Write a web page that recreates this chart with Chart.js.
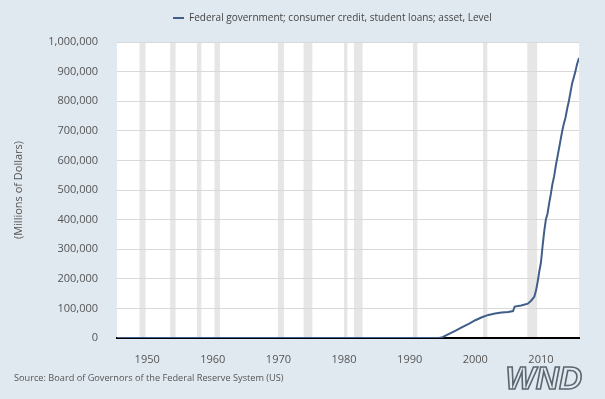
<!DOCTYPE html>
<html>
<head>
<meta charset="utf-8">
<script src="https://cdn.jsdelivr.net/npm/chart.js@4"></script>
<style>
  html, body { margin: 0; padding: 0; background: #e1e9f0; }
  #wrap { width: 605px; height: 399px; }
</style>
</head>
<body>
<div id="wrap"><canvas id="loanChart" width="605" height="399"></canvas></div>
<script>
// dates as decimal years, values in millions of dollars
var years = [1945.4, 1994.5, 1995.0, 1996.0, 1997.0, 1998.0, 1999.0, 2000.0, 2001.0, 2002.0,
    2003.0, 2004.0, 2005.0, 2005.75, 2006.0, 2007.0, 2008.0, 2008.5, 2009.0, 2009.25,
    2009.5, 2009.75, 2010.0, 2010.25, 2010.5, 2010.75, 2011.0, 2011.25, 2011.5, 2011.75,
    2012.0, 2012.25, 2012.5, 2012.75, 2013.0, 2013.25, 2013.5, 2013.75, 2014.0, 2014.25,
    2014.5, 2014.75, 2015.0, 2015.25, 2015.5, 2015.8];
var loans = [0, 0, 3000, 14000, 25000, 37000, 48000, 60000, 70000, 78000,
    83000, 86000, 88000, 91000, 106000, 110000, 116000, 126000, 140000, 160000,
    190000, 225000, 255000, 310000, 360000, 400000, 420000, 455000, 485000, 520000,
    545000, 580000, 610000, 640000, 670000, 700000, 725000, 745000, 775000, 800000,
    830000, 860000, 880000, 900000, 925000, 946000];
var yearTicks = [1950, 1960, 1970, 1980, 1990, 2000, 2010];
var recessionStart = [1948.83, 1953.5, 1957.58, 1960.25, 1969.92, 1973.83, 1980.0, 1981.5, 1990.5, 2001.17, 2007.92];
var recessionEnd = [1949.75, 1954.33, 1958.25, 1961.08, 1970.83, 1975.17, 1980.5, 1982.83, 1991.17, 2001.83, 2009.42];

var seriesName = 'Federal government; consumer credit, student loans; asset, Level';
var sourceText = 'Source: Board of Governors of the Federal Reserve System (US)';

var points = years.map(function (y, i) { return { x: y, y: loans[i] }; });

// white plot area + grey recession bands, under the grid
var backdrop = {
    id: 'backdrop',
    beforeDraw: function (chart) {
        var ctx = chart.ctx, a = chart.chartArea, xs = chart.scales.x;
        ctx.save();
        ctx.fillStyle = '#ffffff';
        ctx.fillRect(a.left, a.top, a.right - a.left, a.bottom - a.top);
        ctx.fillStyle = '#e6e6e6';
        for (var i = 0; i < recessionStart.length; i++) {
            var x0 = xs.getPixelForValue(recessionStart[i]);
            var x1 = xs.getPixelForValue(recessionEnd[i]);
            ctx.fillRect(x0, a.top, Math.max(x1 - x0, 1), a.bottom - a.top);
        }
        ctx.restore();
    }
};

// legend, source line and logo
var extras = {
    id: 'extras',
    afterDraw: function (chart) {
        var ctx = chart.ctx;
        ctx.save();
        ctx.strokeStyle = '#3f5f8a';
        ctx.lineWidth = 2;
        ctx.beginPath();
        ctx.moveTo(173, 18);
        ctx.lineTo(184, 18);
        ctx.stroke();
        ctx.fillStyle = '#444';
        ctx.font = '10px "Open Sans"';
        ctx.textBaseline = 'middle';
        ctx.fillText(seriesName, 189, 18);

        ctx.fillStyle = '#555';
        ctx.font = '9.2px "Open Sans"';
        ctx.fillText(sourceText, 14, 378);

        ctx.font = 'italic bold 32px "Liberation Sans"';
        ctx.textAlign = 'right';
        ctx.lineWidth = 1.6;
        ctx.strokeStyle = '#5b6670';
        ctx.strokeText('WND', 582, 380);
        ctx.restore();
    }
};

var ctxLoans = document.getElementById('loanChart').getContext('2d');
var loanChart = new Chart(ctxLoans, {
    type: 'line',
    data: {
        datasets: [{
            label: seriesName,
            data: points,
            borderColor: '#3f5f8a',
            borderWidth: 2,
            pointRadius: 0,
            tension: 0
        }]
    },
    options: {
        responsive: false,
        animation: false,
        layout: { padding: { top: 42, right: 26, bottom: 0, left: 0 } },
        plugins: {
            legend: { display: false },
            tooltip: { enabled: false }
        },
        scales: {
            x: {
                type: 'linear',
                min: 1945.4,
                max: 2015.8,
                afterFit: function (s) { s.height = 61; },
                afterBuildTicks: function (s) {
                    s.ticks = yearTicks.map(function (v) { return { value: v }; });
                },
                ticks: {
                    padding: 7,
                    color: '#555',
                    font: { family: 'Open Sans', size: 11 },
                    callback: function (v) { return String(v); }
                },
                grid: { display: false },
                border: { color: '#000', width: 2 }
            },
            y: {
                min: 0,
                max: 1000000,
                afterFit: function (s) { s.width = 117; },
                ticks: {
                    stepSize: 100000,
                    padding: 19,
                    color: '#555',
                    font: { family: 'Open Sans', size: 11 },
                    callback: function (v) { return v.toLocaleString('en-US'); }
                },
                grid: { color: '#d9d9d9', drawTicks: false },
                border: { display: false },
                title: {
                    display: true,
                    text: '(Millions of Dollars)',
                    color: '#555',
                    font: { family: 'Open Sans', size: 11 },
                    padding: { top: 12, bottom: 0 }
                }
            }
        }
    },
    plugins: [backdrop, extras]
});
</script>
</body>
</html>
